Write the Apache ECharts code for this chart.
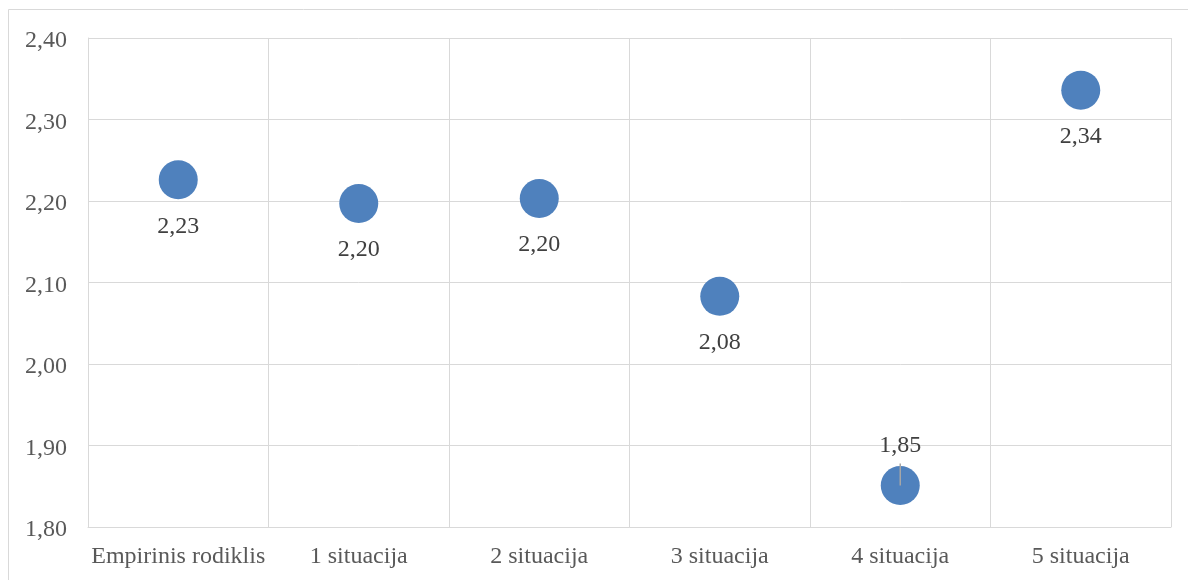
<!DOCTYPE html>
<html>
<head>
<meta charset="utf-8">
<script src="https://cdn.jsdelivr.net/npm/echarts@6/dist/echarts.min.js"></script>
<style>
  html, body { margin: 0; padding: 0; background: #ffffff; }
  #chart { width: 1188px; height: 580px; }
</style>
</head>
<body>
<div id="chart"></div>
<script>
// Categories and the mean value for each one
const categories = ['Empirinis rodiklis', '1 situacija', '2 situacija', '3 situacija', '4 situacija', '5 situacija'];
const values = [2.226, 2.197, 2.203, 2.083, 1.851, 2.336];
// Which labels sit above their point (the rest go below)
const labelAbove = [false, false, false, false, true, false];

const FONT = '"Liberation Serif", "Times New Roman", serif';
const GRID_COLOR = '#d9d9d9';
const POINT_COLOR = '#4f81bd';

const fmt = v => v.toFixed(2).replace('.', ',');

const pointData = values.map((v, i) => ({
  value: [categories[i], v],
  label: labelAbove[i]
    ? { position: 'top', distance: 8 }
    : { position: 'bottom', distance: 15 }
}));

const chart = echarts.init(document.getElementById('chart'), null, { renderer: 'canvas' });

chart.setOption({
  animation: false,
  backgroundColor: '#ffffff',
  graphic: [{
    type: 'rect',
    shape: { x: 8.5, y: 9.5, width: 1300, height: 700 },
    style: { fill: 'none', stroke: GRID_COLOR, lineWidth: 1 },
    silent: true
  }],
  grid: { left: 88, right: 17, top: 38, bottom: 53, containLabel: false },
  xAxis: {
    type: 'category',
    data: categories,
    boundaryGap: true,
    axisLine: { show: true, lineStyle: { color: GRID_COLOR, width: 1 } },
    axisTick: { show: false },
    splitLine: { show: true, lineStyle: { color: GRID_COLOR, width: 1 } },
    axisLabel: { color: '#595959', fontFamily: FONT, fontSize: 24, margin: 18, interval: 0 }
  },
  yAxis: {
    type: 'value',
    min: 1.8,
    max: 2.4,
    interval: 0.1,
    axisLine: { show: true, lineStyle: { color: GRID_COLOR, width: 1 } },
    axisTick: { show: false },
    splitLine: { show: true, lineStyle: { color: GRID_COLOR, width: 1 } },
    axisLabel: {
      color: '#595959', fontFamily: FONT, fontSize: 24, margin: 21,
      formatter: v => '{t|' + fmt(v) + '}',
      rich: {
        t: { color: '#595959', fontFamily: FONT, fontSize: 24, padding: [6, 0, 0, 0] }
      }
    }
  },
  series: [
    {
      type: 'scatter',
      data: pointData,
      symbol: 'circle',
      symbolSize: 39,
      itemStyle: { color: POINT_COLOR, opacity: 1 },
      label: {
        show: true,
        color: '#404040',
        fontFamily: FONT,
        fontSize: 24,
        formatter: p => fmt(p.value[1])
      },
      z: 2
    },
    {
      // Short leader lines joining raised labels to their point
      type: 'custom',
      data: values.map((v, i) => [i, v]).filter((d, i) => labelAbove[i]),
      renderItem: (params, api) => {
        const c = api.coord([api.value(0), api.value(1)]);
        return {
          type: 'line',
          shape: { x1: c[0], y1: c[1], x2: c[0], y2: c[1] - 22 },
          style: { stroke: '#a6a6a6', lineWidth: 1.5 }
        };
      },
      silent: true,
      z: 3
    }
  ]
});
</script>
</body>
</html>
